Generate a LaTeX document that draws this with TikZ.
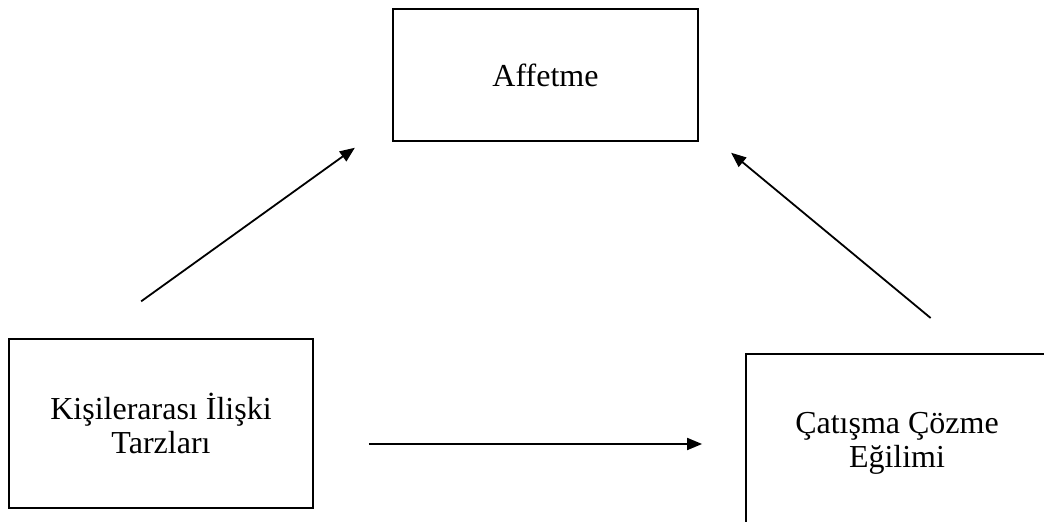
\documentclass[tikz,border=0pt]{standalone}
\usepackage{fontspec}
\setmainfont{Liberation Serif}
\usepackage{tikz}
\usetikzlibrary{arrows.meta,positioning}

\begin{document}
\begin{tikzpicture}[x=1pt, y=1pt, every node/.style={font=\fontsize{32}{34}\selectfont}, varbox/.style={draw,line width=1.8pt,align=center,inner sep=0pt}, arr/.style={-{Triangle[length=15pt,width=12pt]},line width=1.8pt}]
\clip (0,0) rectangle (1044,522);
\node[varbox,minimum width=305pt,minimum height=132pt] (aff) at (545.5,447) {Affetme};
\node[varbox,minimum width=304pt,minimum height=169pt] (kisi) at (161,98.5) {Kişilerarası İlişki\\Tarzları};
\node[varbox,minimum width=302pt,minimum height=178pt] (cat) at (897,79) {Çatışma Çözme\\Eğilimi};
\draw[arr,shorten <=63pt,shorten >=10pt] ([xshift=-71pt]kisi.north) -- ([xshift=-182.5pt]aff.south);
\draw[arr,shorten <=55pt,shorten >=17pt] ([xshift=76pt]cat.north) -- ([xshift=172.5pt]aff.south);
\draw[arr,shorten <=55pt,shorten >=43pt] ([yshift=-20.5pt]kisi.east) -- ([yshift=-1pt]cat.west);
\end{tikzpicture}
\end{document}
